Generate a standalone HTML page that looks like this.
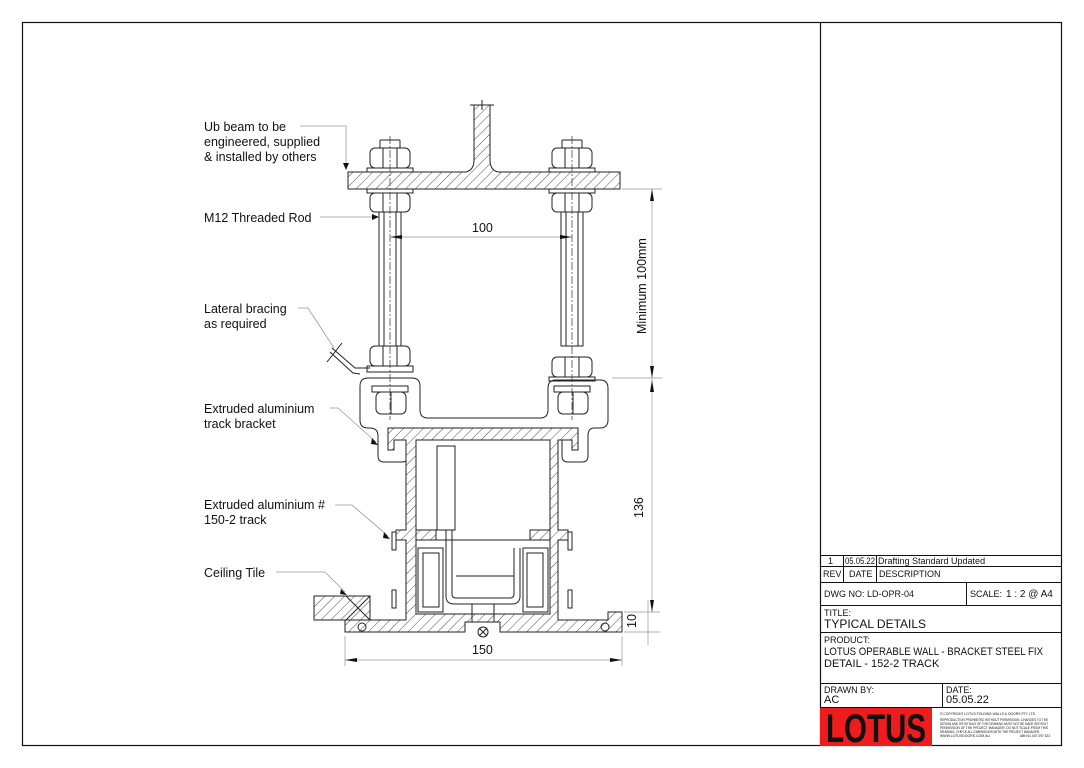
<!DOCTYPE html>
<html><head><meta charset="utf-8"><style>
html,body{margin:0;padding:0;background:#fff}
svg{display:block}
text{font-family:"Liberation Sans",Arial,sans-serif;fill:#111}
</style></head><body>
<svg width="1084" height="768" viewBox="0 0 1084 768" xmlns="http://www.w3.org/2000/svg">
<defs>
<pattern id="h" width="7" height="7" patternUnits="userSpaceOnUse" patternTransform="rotate(45)">
<rect width="7" height="7" fill="#fff"/><line x1="0" y1="0" x2="0" y2="7" stroke="#222" stroke-width="0.8"/>
</pattern>
</defs>
<rect width="1084" height="768" fill="#fff"/>
<rect x="22.5" y="22.5" width="1039" height="723" fill="none" stroke="#111" stroke-width="1.2"/>
<line x1="820.5" y1="22" x2="820.5" y2="746" stroke="#111" stroke-width="1.2"/>

<!-- title block -->
<g stroke="#111" stroke-width="1" fill="none">
<line x1="820" y1="555.5" x2="1062" y2="555.5"/>
<line x1="820" y1="566.5" x2="1062" y2="566.5"/>
<line x1="820" y1="582.5" x2="1062" y2="582.5"/>
<line x1="820" y1="605.5" x2="1062" y2="605.5"/>
<line x1="820" y1="632.5" x2="1062" y2="632.5"/>
<line x1="820" y1="683.5" x2="1062" y2="683.5"/>
<line x1="820" y1="707.5" x2="1062" y2="707.5"/>
<line x1="843.5" y1="555" x2="843.5" y2="582"/>
<line x1="876.5" y1="555" x2="876.5" y2="582"/>
<line x1="966.5" y1="582" x2="966.5" y2="605"/>
<line x1="942.5" y1="683" x2="942.5" y2="707"/>
</g>
<g font-size="9">
<text x="828" y="564">1</text><text x="845" y="564" textLength="30" lengthAdjust="spacingAndGlyphs">05.05.22</text><text x="878" y="564">Drafting Standard Updated</text>
<text x="823" y="577">REV</text><text x="849" y="577">DATE</text><text x="879" y="577">DESCRIPTION</text>
<text x="824" y="597">DWG NO:  LD-OPR-04</text>
<text x="970" y="597">SCALE:</text><text x="1006" y="597" font-size="10">1 : 2 @ A4</text>
<text x="824" y="616">TITLE:</text>
<text x="824" y="643">PRODUCT:</text>
<text x="824" y="693">DRAWN BY:</text>
<text x="946" y="693">DATE:</text>
</g>
<g font-size="11">
<text x="824" y="628" font-size="12">TYPICAL DETAILS</text>
<text x="824" y="655" textLength="219" lengthAdjust="spacingAndGlyphs">LOTUS OPERABLE WALL - BRACKET STEEL FIX</text>
<text x="824" y="667">DETAIL - 152-2 TRACK</text>
<text x="824" y="703">AC</text>
<text x="946" y="703">05.05.22</text>
</g>
<rect x="820" y="708" width="112" height="38" fill="#ee1c1c"/>
<text x="826" y="742" font-size="40" font-weight="bold" style="fill:#111" textLength="100" lengthAdjust="spacingAndGlyphs">LOTUS</text>
<g font-size="3.6">
<text x="940" y="715" textLength="96" lengthAdjust="spacingAndGlyphs">© COPYRIGHT LOTUS FOLDING WALLS &amp; DOORS PTY LTD.</text>
<text x="940" y="721" textLength="108" lengthAdjust="spacingAndGlyphs">REPRODUCTION PROHIBITED WITHOUT PERMISSION. CHANGES TO THE</text>
<text x="940" y="725" textLength="108" lengthAdjust="spacingAndGlyphs">DESIGN AND OR DETAILS OF THIS DRAWING MUST NOT BE MADE WITHOUT</text>
<text x="940" y="729" textLength="108" lengthAdjust="spacingAndGlyphs">PERMISSION OF THE PROJECT MANAGER. DO NOT SCALE FROM THIS</text>
<text x="940" y="733" textLength="100" lengthAdjust="spacingAndGlyphs">DRAWING. CHECK ALL DIMENSIONS WITH THE PROJECT MANAGER.</text>
<text x="940" y="737" textLength="50" lengthAdjust="spacingAndGlyphs">WWW.LOTUSDOORS.COM.AU</text>
<text x="1020" y="737" textLength="30" lengthAdjust="spacingAndGlyphs">ABN 61 007 097 523</text>
</g>

<!-- labels -->
<g font-size="12.5">
<text x="204" y="131">Ub beam to be</text>
<text x="204" y="146">engineered, supplied</text>
<text x="204" y="161">&amp; installed by others</text>
<text x="204" y="222">M12 Threaded Rod</text>
<text x="204" y="313">Lateral bracing</text>
<text x="204" y="328">as required</text>
<text x="204" y="413">Extruded aluminium</text>
<text x="204" y="428">track bracket</text>
<text x="204" y="509">Extruded aluminium #</text>
<text x="204" y="524">150-2 track</text>
<text x="204" y="577">Ceiling Tile</text>
</g>
<g stroke="#999" stroke-width="0.8" fill="none">
<polyline points="300,126 346,126 346,164"/>
<line x1="320" y1="217" x2="376" y2="217"/>
<polyline points="298,308 308,308 334,348"/>
<polyline points="330,408 338,408 376,442"/>
<polyline points="335,505 352,505 388,536"/>
<polyline points="276,572 325,572 345,592"/>
</g>
<g fill="#111">
<polygon points="343,163 349,163 346,170"/>
<polygon points="372,214 379,217 372,220"/>
<polygon points="372,438 378,445 371,444"/>
<polygon points="384,532 390,539 383,538"/>
<polygon points="341,589 347,595 340,594"/>
</g>

<!-- structure -->
<g stroke="#222" stroke-width="1" fill="none">
<!-- beam -->
<path d="M348,172 L466,172 Q474,170 474,160 L474,105 L490,105 L490,160 Q490,170 498,172 L620,172 L620,189 L348,189 Z" fill="url(#h)"/>
<line x1="470" y1="105" x2="494" y2="105"/>
<line x1="482" y1="100" x2="482" y2="110"/>
<!-- rods -->
<g id="rod">
<rect x="379" y="212" width="22" height="134" fill="#fff"/>
<line x1="384" y1="212" x2="384" y2="346"/><line x1="396" y1="212" x2="396" y2="346"/>
<rect x="380" y="140" width="20" height="8" rx="1"/>
<rect x="370" y="148" width="40" height="20" rx="5" fill="#fff"/>
<line x1="383" y1="148" x2="383" y2="168"/><line x1="397" y1="148" x2="397" y2="168"/>
<rect x="367" y="168" width="46" height="4"/>
<rect x="367" y="189" width="46" height="4"/>
<rect x="370" y="193" width="40" height="19" rx="5" fill="#fff"/>
<line x1="383" y1="193" x2="383" y2="212"/><line x1="397" y1="193" x2="397" y2="212"/>
</g>
<use href="#rod" x="182"/>
<rect x="370" y="346" width="40" height="20" rx="5" fill="#fff"/>
<line x1="383" y1="346" x2="383" y2="366"/><line x1="397" y1="346" x2="397" y2="366"/>
<rect x="367" y="366" width="46" height="6"/>
<rect x="552" y="357" width="40" height="20" rx="5" fill="#fff"/>
<line x1="565" y1="357" x2="565" y2="377"/><line x1="579" y1="357" x2="579" y2="377"/>
<rect x="549" y="377" width="46" height="4"/>
<!-- bracket -->
<path d="M368,378 L412,378 Q420,378 420,386 L420,410 Q420,418 428,418 L540,418 Q548,418 548,410 L548,388 Q548,380 556,380 L600,380 Q608,380 608,388 L608,420 Q608,428 600,428 L594,428 Q588,428 588,436 L588,456 Q588,462 582,462 L568,462 Q562,462 562,456 L562,440 L408,440 L408,456 Q408,462 402,462 L384,462 Q378,462 378,456 L378,436 Q378,428 370,428 L368,428 Q360,428 360,420 L360,386 Q360,378 368,378 Z"/>
<rect x="372" y="386" width="36" height="6"/><rect x="554" y="386" width="36" height="6"/>
<rect x="376" y="392" width="30" height="22" rx="5" fill="#fff"/>
<rect x="558" y="392" width="30" height="22" rx="5" fill="#fff"/>
<line x1="391" y1="392" x2="391" y2="414"/><line x1="573" y1="392" x2="573" y2="414"/>
<!-- lateral bracing -->
<polyline points="332,348 355,368 370,368"/>
<polyline points="330,352 353,373 360,374"/>
<line x1="327" y1="362" x2="342" y2="343"/>
<!-- track -->
<path d="M388,428 L578,428 L578,450 L572,450 L572,440 L558,440 L558,530 L568,530 L568,540 L558,540 L558,620 L608,620 L608,612 L622,612 L622,632 L500,632 L500,622 L465,622 L465,632 L345,632 L345,612 L358,612 L358,620 L406,620 L406,540 L396,540 L396,530 L406,530 L406,440 L394,440 L394,450 L388,450 Z" fill="url(#h)"/>
<rect x="416" y="440" width="134" height="90" fill="#fff"/>
<path d="M416,530 L436,530 L436,540 L416,540 Z M530,530 L550,530 L550,540 L530,540 Z" fill="url(#h)"/>
<rect x="436.5" y="529.5" width="93" height="11" fill="#fff" stroke="none"/>
<rect x="416" y="540" width="134" height="74" fill="#fff"/>
<line x1="416" y1="614" x2="550" y2="614"/>
<rect x="437" y="446" width="18" height="84" fill="#fff"/>
<line x1="446" y1="530" x2="446" y2="540"/><line x1="452" y1="530" x2="452" y2="540"/>
<rect x="418" y="548" width="25" height="64"/><rect x="423" y="553" width="16" height="54"/>
<rect x="523" y="548" width="25" height="64"/><rect x="527" y="553" width="16" height="54"/>
<path d="M446,530 L446,596 Q446,604 454,604 L512,604 Q520,604 520,596 L520,548 M452,530 L452,594 Q452,598 456,598 L510,598 Q514,598 514,594 L514,548 M456,576 L514,576"/>
<line x1="472" y1="604" x2="472" y2="622"/><line x1="494" y1="604" x2="494" y2="622"/>
<rect x="392" y="532" width="4" height="18"/><rect x="568" y="532" width="4" height="18"/>
<rect x="392" y="590" width="4" height="18"/><rect x="568" y="590" width="4" height="18"/>
<circle cx="362" cy="627" r="4"/><circle cx="605" cy="627" r="4"/>
<!-- ceiling tile -->
<rect x="314" y="596" width="56" height="24" fill="url(#h)"/>
<path d="M346,596 L370,620 M346,620 L370,596" />
<circle cx="483" cy="632" r="5"/><path d="M479,628 L487,636 M479,636 L487,628"/>
</g>
<!-- centre lines -->
<g stroke="#333" stroke-width="0.7" stroke-dasharray="8,2,2,2">
<line x1="390" y1="136" x2="390" y2="420"/>
<line x1="572" y1="136" x2="572" y2="420"/>
</g>
<!-- dimensions -->
<g stroke="#999" stroke-width="0.7" fill="none">
<line x1="390" y1="237" x2="572" y2="237"/>
<line x1="622" y1="189" x2="662" y2="189"/>
<line x1="612" y1="378" x2="662" y2="378"/>
<line x1="652" y1="189" x2="652" y2="378"/>
<line x1="652" y1="378" x2="652" y2="612"/>
<line x1="624" y1="612" x2="660" y2="612"/>
<line x1="624" y1="632" x2="660" y2="632"/>
<line x1="648" y1="600" x2="648" y2="645"/>
<line x1="345" y1="636" x2="345" y2="666"/>
<line x1="622" y1="636" x2="622" y2="666"/>
<line x1="345" y1="660" x2="622" y2="660"/>
</g>
<g fill="#111">
<polygon points="390,237 402,235 402,239"/><polygon points="572,237 560,235 560,239"/>
<polygon points="652,189 650,201 654,201"/><polygon points="652,378 650,366 654,366"/>
<polygon points="652,380 650,392 654,392"/><polygon points="652,612 650,600 654,600"/>
<polygon points="345,660 357,658 357,662"/><polygon points="622,660 610,658 610,662"/>
</g>
<g font-size="12.5">
<text x="472" y="232">100</text>
<text x="472" y="654">150</text>
<text transform="translate(646,334) rotate(-90)">Minimum 100mm</text>
<text transform="translate(643,518) rotate(-90)">136</text>
<text transform="translate(636,628) rotate(-90)">10</text>
</g>
</svg>
</body></html>
